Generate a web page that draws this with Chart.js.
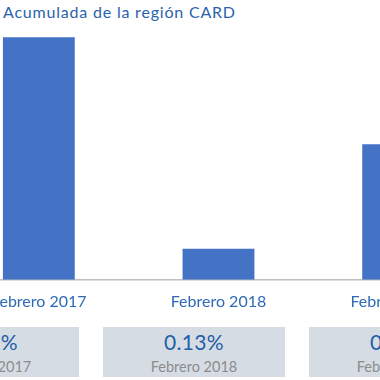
<!DOCTYPE html>
<html>
<head>
<meta charset="utf-8">
<script src="https://cdn.jsdelivr.net/npm/chart.js@4"></script>
<style>
  html, body { margin: 0; padding: 0; background: #fff; overflow: hidden; }
  body { width: 380px; height: 380px; position: relative; font-family: "Lato", sans-serif; }
  #title { position: absolute; left: 3px; top: 2px; font-size: 16px; letter-spacing: 0.8px; color: #2a63ad; white-space: nowrap; }
  #wrap { position: absolute; left: -51px; top: 30px; width: 539px; height: 293px; }
  .box { position: absolute; top: 327px; width: 182px; height: 50px; background: #d6dce4; text-align: center; }
  .box .val { font-size: 21px; color: #1f5ea8; line-height: 22px; margin-top: 4px; letter-spacing: 0.3px; }
  .box .cap { font-size: 14.5px; color: #8c8c8c; line-height: 16px; margin-top: 6px; }
</style>
</head>
<body>
<div id="title">Acumulada de la región CARD</div>
<div id="wrap"><canvas id="barChart"></canvas></div>
<div id="boxes"></div>
<script>
// data
const periods = ['Febrero 2017', 'Febrero 2018', 'Febrero 2019'];
const accumulated = [1.02, 0.13, 0.57];

// cards under the chart, one per period
const boxes = document.getElementById('boxes');
periods.forEach((p, i) => {
  const d = document.createElement('div');
  d.className = 'box';
  d.style.left = (-103 + i * 206) + 'px';
  d.innerHTML = '<div class="val">' + accumulated[i].toFixed(2) + '%</div><div class="cap">' + p + '</div>';
  boxes.appendChild(d);
});

const ctx = document.getElementById('barChart').getContext('2d');
new Chart(ctx, {
  type: 'bar',
  data: {
    labels: periods,
    datasets: [{
      data: accumulated,
      backgroundColor: '#4472c4',
      borderWidth: 0,
      barPercentage: 0.4,
      categoryPercentage: 1
    }]
  },
  options: {
    responsive: true,
    maintainAspectRatio: false,
    animation: false,
    layout: { padding: 0 },
    plugins: { legend: { display: false }, tooltip: { enabled: false } },
    scales: {
      x: {
        grid: { display: false, drawTicks: false },
        border: { color: '#bfbfbf', width: 1.5 },
        ticks: { color: '#2f6ab5', font: { family: 'Lato', size: 16 }, padding: 12 }
      },
      y: {
        display: false,
        min: 0,
        max: 1.05
      }
    }
  }
});
</script>
</body>
</html>
